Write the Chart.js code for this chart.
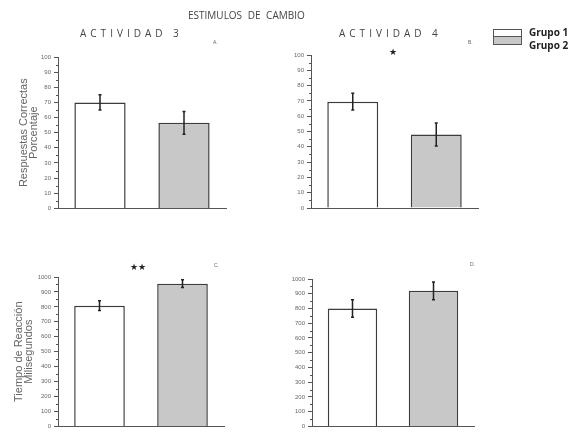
<!DOCTYPE html>
<html lang="es">
<head>
    <meta charset="UTF-8">
    <title>Estimulos de cambio</title>
    <style>
        body {
            margin: 0;
            background: #fff;
            font-family: "Open Sans", Arial, sans-serif;
        }
        .wrap {
            position: relative;
            width: 574px;
            height: 433px;
            overflow: hidden;
        }
        canvas {
            position: absolute;
        }
        .txt {
            position: absolute;
            white-space: nowrap;
            line-height: 1;
            color: #444;
        }
        .title { font-size: 10px; word-spacing: 3px; }
        .act { font-size: 10px; letter-spacing: 4px; }
        .letter { font-size: 5px; color: #666; font-family: Arial, sans-serif; }
        .star { font-size: 9px; color: #222; font-family: "DejaVu Sans", sans-serif; }
        .box {
            position: absolute;
            left: 493px;
            width: 27px;
            border: 1px solid #555;
        }
        .leg { font-size: 10px; font-weight: bold; color: #222; }
    </style>
    <script src="https://cdn.jsdelivr.net/npm/chart.js"></script>
</head>
<body>
<div class="wrap">
    <canvas id="panelA" width="240" height="215" style="left:0;top:0"></canvas>
    <canvas id="panelB" width="220" height="215" style="left:270px;top:0"></canvas>
    <canvas id="panelC" width="240" height="213" style="left:0;top:220px"></canvas>
    <canvas id="panelD" width="220" height="213" style="left:270px;top:220px"></canvas>

    <div class="txt title" style="left:188px;top:10px">ESTIMULOS DE CAMBIO</div>
    <div class="txt act" style="left:80px;top:28px">ACTIVIDAD 3</div>
    <div class="txt act" style="left:339px;top:28px">ACTIVIDAD 4</div>
    <div class="txt letter" style="left:213px;top:40px">A.</div>
    <div class="txt letter" style="left:468px;top:40px">B.</div>
    <div class="txt letter" style="left:214px;top:263px">C.</div>
    <div class="txt letter" style="left:470px;top:262px">D.</div>
    <div class="txt star" style="left:389px;top:48px">★</div>
    <div class="txt star" style="left:130px;top:263px">★★</div>

    <div class="box" style="top:29px;height:6px;background:#fff"></div>
    <div class="box" style="top:36px;height:7px;background:#c8c8c8"></div>
    <div class="txt leg" style="left:529px;top:27px">Grupo 1</div>
    <div class="txt leg" style="left:529px;top:40px">Grupo 2</div>
</div>

<script>
    // data
    const groups = ['Grupo 1', 'Grupo 2'];
    const aciertosAct3 = [70, 56.5];
    const aciertosAct3Err = [5, 7.5];
    const aciertosAct4 = [69.5, 48];
    const aciertosAct4Err = [5.5, 7.5];
    const tiempoAct3 = [808, 955];
    const tiempoAct3Err = [33, 26];
    const tiempoAct4 = [800, 920];
    const tiempoAct4Err = [60, 60];

    const barFills = ['#ffffff', '#c8c8c8'];

    Chart.defaults.font.family = '"Liberation Sans", Arial, sans-serif';

    // error bars from the dataset's errors array
    const errorBars = {
        id: 'errorBars',
        afterDatasetsDraw(chart) {
            const ds = chart.data.datasets[0];
            const y = chart.scales.y;
            const ctx = chart.ctx;
            ctx.save();
            ctx.strokeStyle = '#222';
            ctx.lineWidth = 1.5;
            chart.getDatasetMeta(0).data.forEach((bar, i) => {
                const hi = y.getPixelForValue(ds.data[i] + ds.errors[i]);
                const lo = y.getPixelForValue(ds.data[i] - ds.errors[i]);
                ctx.beginPath();
                ctx.moveTo(bar.x, hi);
                ctx.lineTo(bar.x, lo);
                ctx.moveTo(bar.x - 1.5, hi);
                ctx.lineTo(bar.x + 1.5, hi);
                ctx.moveTo(bar.x - 1.5, lo);
                ctx.lineTo(bar.x + 1.5, lo);
                ctx.stroke();
            });
            ctx.restore();
        }
    };

    // small ticks between the labelled ones
    const minorTicks = {
        id: 'minorTicks',
        afterDraw(chart) {
            const y = chart.scales.y;
            const step = y.options.ticks.stepSize;
            const ctx = chart.ctx;
            ctx.save();
            ctx.strokeStyle = '#555';
            ctx.lineWidth = 1;
            for (let v = step / 2; v < y.max; v += step) {
                const py = Math.round(y.getPixelForValue(v)) + 0.5;
                ctx.beginPath();
                ctx.moveTo(y.right - 2, py);
                ctx.lineTo(y.right, py);
                ctx.stroke();
            }
            ctx.restore();
        }
    };

    function panel(id, values, errors, max, step, yTitle, titlePad, yWidth, pad) {
        return new Chart(document.getElementById(id), {
            type: 'bar',
            data: {
                labels: groups,
                datasets: [{
                    data: values,
                    errors: errors,
                    backgroundColor: barFills,
                    borderColor: '#3c3c3c',
                    borderWidth: 1.5,
                    categoryPercentage: 1,
                    barPercentage: 0.61
                }]
            },
            options: {
                responsive: false,
                animation: false,
                layout: { padding: pad },
                plugins: {
                    legend: { display: false },
                    tooltip: { enabled: false }
                },
                scales: {
                    x: {
                        grid: { display: false },
                        ticks: { display: false },
                        border: { color: '#555', width: 1 },
                        afterFit: s => { s.height = 0; }
                    },
                    y: {
                        min: 0,
                        max: max,
                        ticks: {
                            stepSize: step,
                            font: { size: 6 },
                            color: '#666',
                            padding: 3,
                            callback: v => String(v)
                        },
                        grid: { drawOnChartArea: false, tickLength: 4, color: '#555' },
                        border: { color: '#555', width: 1 },
                        title: yTitle ? {
                            display: true,
                            text: yTitle,
                            color: '#666',
                            font: { size: 11, lineHeight: 0.9 },
                            padding: { top: titlePad, bottom: 0 }
                        } : { display: false },
                        afterFit: s => { s.width = yWidth; }
                    }
                }
            },
            plugins: [errorBars, minorTicks]
        });
    }

    panel('panelA', aciertosAct3, aciertosAct3Err, 100, 10,
        ['Respuestas Correctas', 'Porcentaje'], 19, 58, { top: 57, bottom: 6, right: 14, left: 0 });
    panel('panelB', aciertosAct4, aciertosAct4Err, 100, 10,
        null, 0, 41, { top: 55, bottom: 7, right: 12, left: 0 });
    panel('panelC', tiempoAct3, tiempoAct3Err, 1000, 100,
        ['Tiempo de Reacción', 'Milisegundos'], 14, 58, { top: 57, bottom: 5, right: 16, left: 0 });
    panel('panelD', tiempoAct4, tiempoAct4Err, 1000, 100,
        null, 0, 42, { top: 59, bottom: 4, right: 16, left: 0 });
</script>
</body>
</html>
